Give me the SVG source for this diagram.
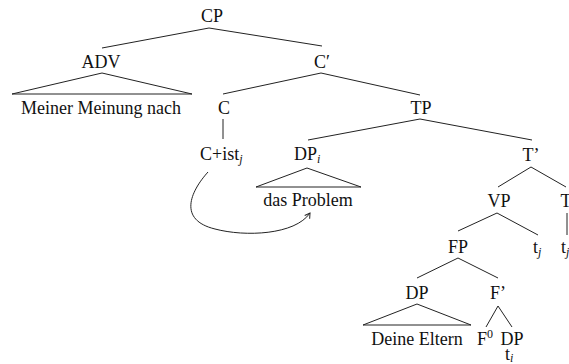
<svg xmlns="http://www.w3.org/2000/svg" width="569" height="364" viewBox="0 0 569 364">
<style>
text{font-family:"Liberation Serif","Times New Roman",serif;font-size:18px;fill:#111;text-anchor:middle}
.s{font-size:12px;font-style:italic}
.sup{font-size:12px}
.l{text-anchor:start}
line,polyline,path{stroke:#222;stroke-width:1;fill:none}
</style>
<defs>
<marker id="ah" markerWidth="10" markerHeight="10" refX="0" refY="0" viewBox="-6 -5 8 10" orient="auto" markerUnits="userSpaceOnUse">
<path d="M-5,-3 L0,0 L-5,3" stroke="#222" fill="none"/>
</marker>
</defs>
<g id="connectors">
<line x1="209" y1="28" x2="102" y2="48"/>
<line x1="209" y1="28" x2="322" y2="46"/>
<polygon points="102,73 12,94 192,94" fill="none" stroke="#222"/>
<line x1="321" y1="73" x2="223" y2="94"/>
<line x1="321" y1="73" x2="420" y2="95"/>
<line x1="223" y1="119" x2="223" y2="139"/>
<line x1="420" y1="119" x2="308" y2="140"/>
<line x1="420" y1="119" x2="532" y2="140"/>
<polygon points="307,168 256,187 361,187" fill="none" stroke="#222"/>
<line x1="531" y1="167" x2="498" y2="187"/>
<line x1="531" y1="167" x2="566" y2="187"/>
<line x1="567" y1="213" x2="567" y2="235"/>
<line x1="497" y1="213" x2="458" y2="231"/>
<line x1="497" y1="213" x2="538" y2="235"/>
<line x1="458" y1="258" x2="417" y2="278"/>
<line x1="458" y1="258" x2="498" y2="278"/>
<polygon points="417,304 363,325 471,325" fill="none" stroke="#222"/>
<line x1="498" y1="306" x2="486" y2="327"/>
<line x1="498" y1="306" x2="512" y2="327"/>
<path d="M208,172 C190,192 178,220 215,229 C245,237 295,235 310,213" marker-end="url(#ah)"/>
</g>
<g id="CP"><text x="212" y="22">CP</text></g>
<g id="ADV"><text x="101" y="68">ADV</text></g>
<g id="Cbar"><text x="322" y="68">C′</text></g>
<g id="MeinerMeinungNach"><text x="101" y="114">Meiner Meinung nach</text></g>
<g id="C"><text x="224" y="114">C</text></g>
<g id="TP"><text x="421" y="114">TP</text></g>
<g id="Cist"><text class="l" x="200" y="160">C+ist<tspan class="s" dy="3">j</tspan></text></g>
<g id="DPi"><text class="l" x="294" y="160">DP<tspan class="s" dy="3">i</tspan></text></g>
<g id="Tbar"><text x="531" y="161">T’</text></g>
<g id="dasProblem"><text x="308" y="206">das Problem</text></g>
<g id="VP"><text x="499" y="207">VP</text></g>
<g id="T"><text x="566" y="207">T</text></g>
<g id="FP"><text x="458" y="253">FP</text></g>
<g id="tj1"><text class="l" x="533" y="253">t<tspan class="s" dy="3">j</tspan></text></g>
<g id="tj2"><text class="l" x="561" y="253">t<tspan class="s" dy="3">j</tspan></text></g>
<g id="DP"><text x="417" y="299">DP</text></g>
<g id="Fbar"><text x="498" y="299">F’</text></g>
<g id="DeineEltern"><text x="417" y="345">Deine Eltern</text></g>
<g id="F0"><text class="l" x="477" y="345">F<tspan class="sup" dy="-7">0</tspan></text></g>
<g id="DP2"><text x="512" y="345">DP</text></g>
<g id="ti"><text class="l" x="505" y="360">t<tspan class="s" dy="2">i</tspan></text></g>
</svg>
